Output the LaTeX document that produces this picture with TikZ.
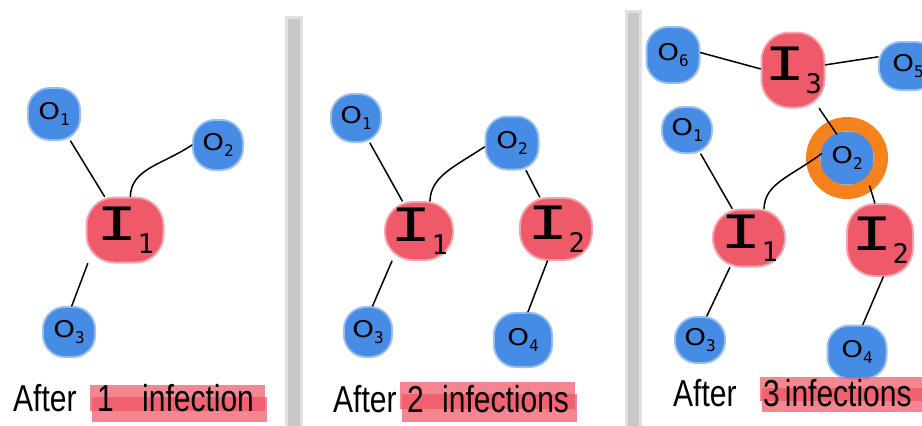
\documentclass[tikz,border=0pt]{standalone}
\usepackage{fontspec}
\setsansfont{Liberation Sans}
\newfontfamily\hand{DejaVu Sans Mono}
\newfontfamily\handO{DejaVu Sans}
\definecolor{blobblue}{RGB}{70,140,228}
\definecolor{blobred}{RGB}{238,90,106}
\definecolor{ringorange}{RGB}{246,130,30}
\definecolor{hlred}{RGB}{240,84,100}
\definecolor{bargray}{RGB}{200,200,200}
\newcommand{\olab}[1]{{\handO\fontsize{23}{23}\selectfont\scalebox{1.2}[1]{O}\raisebox{-6pt}{\hand\fontsize{16}{16}\selectfont #1}}}
\newcommand{\ilab}[1]{{\hand\fontsize{46}{46}\selectfont\scalebox{1.5}[1]{I}\raisebox{-13pt}{\fontsize{27}{27}\selectfont #1}}}
\newcommand{\tall}[1]{\scalebox{1}[1.25]{#1}}
\begin{document}
\begin{tikzpicture}[x=1pt,y=-1pt,
  oblob/.style={rectangle, rounded corners=21pt, fill=blobblue, draw=blobblue, draw opacity=0.55, line width=4pt, inner sep=0pt},
  iblob/.style={rectangle, rounded corners=27pt, fill=blobred, draw=blobred, draw opacity=0.55, line width=4pt, inner sep=0pt},
  link/.style={draw=black, line width=1.5pt, line cap=round},
  lbl/.style={anchor=base west, inner sep=0pt, font=\sffamily\fontsize{30}{30}\selectfont},
  hl/.style={fill=hlred, fill opacity=0.7},
  ring/.style={draw=ringorange, line width=14pt},
]
\useasboundingbox (0,0) rectangle (922,426);
\fill[white] (0,0) rectangle (922,426);

% separators
\fill[bargray!55] (285,16) rectangle (303,426);
\fill[bargray] (288,19) rectangle (300,426);
\fill[bargray!55] (625,10) rectangle (642,426);
\fill[bargray] (628,13) rectangle (639,426);

% ---------- panel 1 ----------
\node[oblob, minimum width=50pt, minimum height=50pt] (P1O1) at (54,114) {\olab{1}};
\node[oblob, minimum width=48pt, minimum height=48pt] (P1O2) at (218,145) {\olab{2}};
\node[iblob, minimum width=75pt, minimum height=63pt] (P1I1) at (125,230) {\ilab{1}};
\node[oblob, minimum width=50pt, minimum height=48pt] (P1O3) at (69,332) {\olab{3}};
\draw[link] (P1O1) -- (P1I1);
\draw[link] (P1I1.81) .. controls +(1,-28) and +(-30,20) .. (P1O2.180);
\draw[link] (P1I1.222) -- (P1O3.84);

% ---------- panel 2 ----------
\node[oblob, minimum width=48pt, minimum height=46pt] (P2O1) at (356,118) {\olab{1}};
\node[oblob, minimum width=51pt, minimum height=51pt] (P2O2) at (512,143) {\olab{2}};
\node[iblob, minimum width=66pt, minimum height=56pt] (P2I1) at (419,231) {\ilab{1}};
\node[iblob, minimum width=70pt, minimum height=60pt] (P2I2) at (556,229) {\ilab{2}};
\node[oblob, minimum width=46pt, minimum height=48pt] (P2O3) at (368,332) {\olab{3}};
\node[oblob, minimum width=56pt, minimum height=52pt] (P2O4) at (523,340) {\olab{4}};
\draw[link] (P2O1) -- (P2I1);
\draw[link] (P2I1.70) .. controls +(1,-25) and +(-30,20) .. (P2O2.188);
\draw[link] (P2O2) -- (P2I2);
\draw[link] (P2I1.228) -- (P2O3.80);
\draw[link] (P2I2.-105) -- (P2O4.80);

% ---------- panel 3 ----------
\node[oblob, minimum width=51pt, minimum height=54pt] (P3O6) at (673,55) {\olab{6}};
\node[iblob, minimum width=61pt, minimum height=73pt] (P3I3) at (793,70) {\ilab{3}};
\node[oblob, minimum width=56pt, minimum height=46pt] (P3O5) at (908,66) {\olab{5}};
\node[oblob, minimum width=48pt, minimum height=44pt] (P3O1) at (687,130) {\olab{1}};
\node[oblob, minimum width=52pt, minimum height=52pt] (P3O2) at (847,158) {\olab{2}};
\node[iblob, minimum width=70pt, minimum height=55pt] (P3I1) at (749,238) {\ilab{1}};
\node[iblob, minimum width=64pt, minimum height=70pt] (P3I2) at (880,240) {\ilab{2}};
\node[oblob, minimum width=48pt, minimum height=44pt] (P3O3) at (700,340) {\olab{3}};
\node[oblob, minimum width=57pt, minimum height=51pt] (P3O4) at (857,352) {\olab{4}};
\draw[ring] (P3O2.center) circle[radius=34pt];
\draw[link] (P3O6.5) -- (P3I3.178);
\draw[link] (P3I3.9) -- (P3O5.163);
\draw[link, shorten >=-5pt] (P3I3) -- (P3O2.115);
\draw[link] (P3O1) -- (P3I1);
\draw[link, shorten >=-3pt] (P3I1.63) .. controls +(1,-25) and +(-30,22) .. (P3O2.175);
\draw[link] (P3O2.-51) -- (P3I2.98);
\draw[link] (P3I1.-123) -- (P3O3.74);
\draw[link] (P3I2.-85) -- (P3O4.78);

% ---------- captions ----------
\fill[hl] (90,385) rectangle (265,411);
\fill[hl] (92,397) rectangle (267,422);
\fill[hl] (400,382) rectangle (575,409);
\fill[hl] (402,394) rectangle (577,422);
\fill[hl] (760,377) rectangle (922,401);
\fill[hl] (762,388) rectangle (922,412);
\node[lbl] (A1) at (13,411) {\tall{After}};
\node[lbl] (T1) at (97,411) {\tall{1\hspace{20pt} infection}};
\node[lbl] (A2) at (333,412) {\tall{After}};
\node[lbl] (T2) at (407,412) {\tall{2\hspace{10pt} infections}};
\node[lbl] (A3) at (673,406) {\tall{After}};
\node[lbl] (T3) at (763,406) {\tall{3\,infections}};
\end{tikzpicture}
\end{document}
